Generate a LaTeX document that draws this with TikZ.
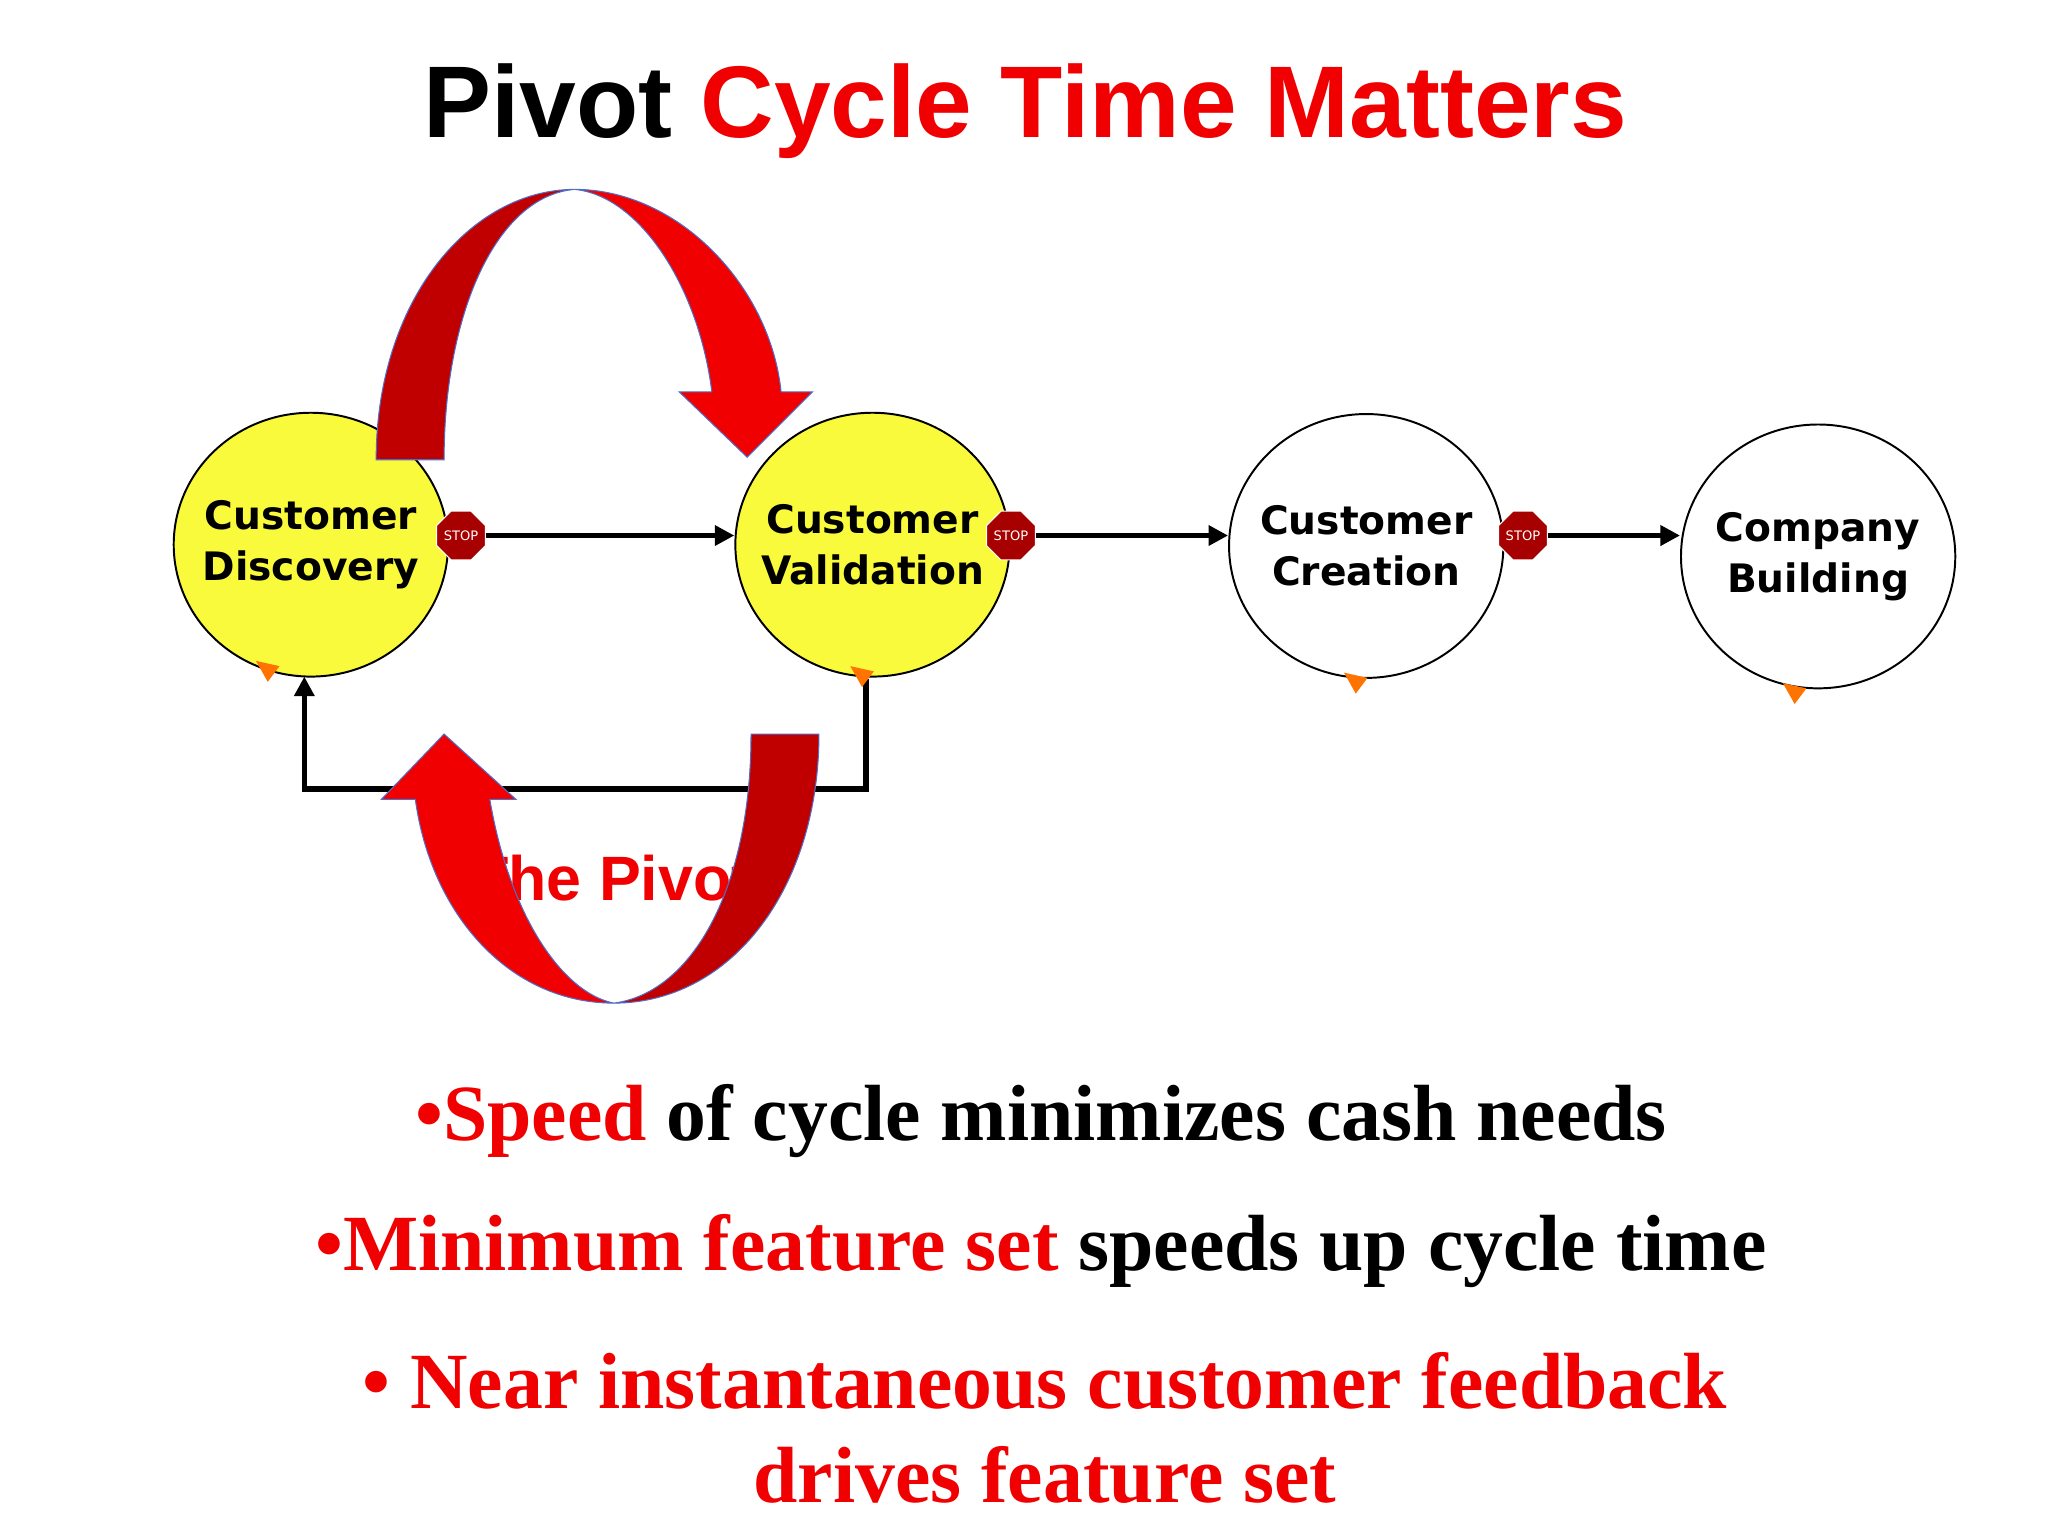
\documentclass[tikz,border=0pt]{standalone}
\usepackage{fontspec}
\setmainfont{Liberation Serif}
\newfontfamily\vfont{DejaVu Sans}
\newfontfamily\afont{Liberation Sans}
\usetikzlibrary{arrows.meta,shapes.geometric}
\definecolor{myred}{RGB}{240,0,0}
\definecolor{dred}{RGB}{192,0,0}
\definecolor{myyel}{RGB}{250,250,60}
\definecolor{blueline}{RGB}{80,110,200}
\begin{document}
\begin{tikzpicture}[x=1pt,y=-1pt,
  stage/.style={draw=black,line width=1.5pt,ellipse,minimum width=210pt,minimum height=202pt,inner sep=0pt},
  stagetext/.style={align=center,font=\vfont\bfseries\fontsize{30}{39}\selectfont},
  stopsign/.style={regular polygon,regular polygon sides=8,fill=red!65!black,draw=white,line width=0.8pt,minimum size=38pt,inner sep=0pt,text=white,font=\vfont\fontsize{10}{10}\selectfont},
  flow/.style={line width=4pt,-{Triangle[length=15pt,width=15pt]}},
  tri/.style={fill=orange!90!red,draw=none},
  bullet/.style={font=\bfseries\fontsize{61}{63}\selectfont}]
\useasboundingbox (0,0) rectangle (1568,1176);
\node (title) at (785,85) {\afont\bfseries\fontsize{78}{90}\selectfont Pivot \textcolor{myred}{Cycle Time Matters}};
\node[stage,fill=myyel] (cd) at (238,417) {};
\node[stage,fill=myyel] (cv) at (668,417) {};
\node[stage] (cc) at (1046,418) {};
\node[stage] (cb) at (1392,426) {};
\node[stagetext] (cdt) at (cd) {Customer\\Discovery};
\node[stagetext] (cvt) at (cv) {Customer\\Validation};
\node[stagetext] (cct) at (cc) {Customer\\Creation};
\node[stagetext] (cbt) at (cb) {Company\\Building};
\node[stopsign] (s1) at (353,410) {STOP};
\node[stopsign] (s2) at (774,410) {STOP};
\node[stopsign] (s3) at (1166,410) {STOP};
\draw[flow] (s1.east) -- (cv.west |- s1.east);
\draw[flow] (s2.east) -- (cc.west |- s2.east);
\draw[flow] (s3.east) -- (cb.west |- s3.east);
\coordinate (fa) at (663,520);
\coordinate (fb) at (233,518);
\draw[flow] (fa) -- (663,604) -- (233,604) -- (fb);
\foreach \x/\y in {205/513,660/517,1038/522,1374/530}
  \fill[tri] (\x-9,\y-7) -- (\x+9,\y-3) -- (\x,\y+9) -- cycle;
\node[text=myred,font=\afont\bfseries\fontsize{48}{50}\selectfont] (pivot) at (468,672) {The Pivot};
% top arrow
\draw[blueline,line width=0.8pt,fill=dred] (288,352) .. controls (288,230) and (360,145) .. (440,145) .. controls (380,150) and (340,240) .. (340,352) -- cycle;
\draw[blueline,line width=0.8pt,fill=myred] (440,145) .. controls (520,145) and (590,220) .. (598,300) -- (622,300) -- (572,350) -- (520,300) -- (545,300) .. controls (535,220) and (490,150) .. (440,145);
% bottom arrow
\draw[blueline,line width=0.8pt,fill=dred] (627,562) .. controls (627,680) and (560,768) .. (470,768) .. controls (530,760) and (575,680) .. (575,562) -- cycle;
\draw[blueline,line width=0.8pt,fill=myred] (470,768) .. controls (390,768) and (330,700) .. (318,612) -- (292,612) -- (340,562) -- (395,612) -- (375,612) .. controls (390,700) and (430,760) .. (470,768);
\node[bullet] (b1) at (797,858) {\textcolor{myred}{•Speed} of cycle minimizes cash needs};
\node[bullet] (b2) at (797,958) {\textcolor{myred}{•Minimum feature set} speeds up cycle time};
\node[bullet,text=myred,align=center,font=\bfseries\fontsize{61}{72}\selectfont] (b3) at (800,1093) {• Near instantaneous customer feedback\\drives feature set};
\end{tikzpicture}
\end{document}
